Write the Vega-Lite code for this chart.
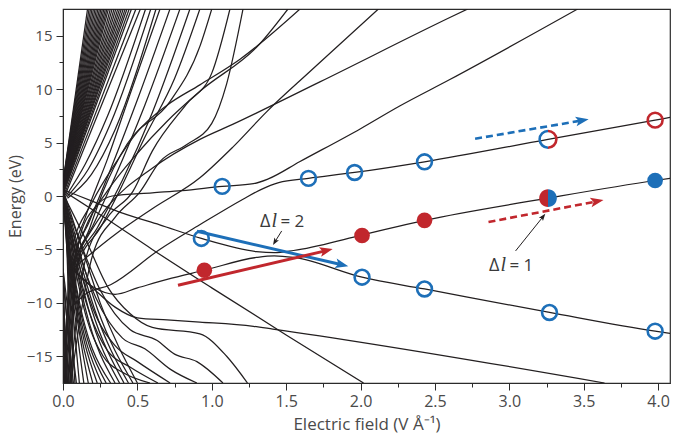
{
"$schema":"https://vega.github.io/schema/vega-lite/v6.json",
"width":607,"height":374,
"autosize":{"type":"none"},
"padding":{"left":63,"top":9,"right":19,"bottom":57},
"config":{"view":{"stroke":"#2b2b2b","strokeWidth":1.2},"font":"Open Sans"},
"datasets":{
"lines":[
{"id":"u1","x":0,"y":1.3},{"id":"u1","x":0.165,"y":17.5},
{"id":"u1b","x":0,"y":1.28},{"id":"u1b","x":0.175,"y":17.5},
{"id":"u2","x":0,"y":1.25},{"id":"u2","x":0.185,"y":17.5},
{"id":"u2b","x":0,"y":1.22},{"id":"u2b","x":0.195,"y":17.5},
{"id":"u3","x":0,"y":1.2},{"id":"u3","x":0.205,"y":17.5},
{"id":"u3b","x":0,"y":1.15},{"id":"u3b","x":0.215,"y":17.5},
{"id":"u4","x":0,"y":1.1},{"id":"u4","x":0.225,"y":17.5},
{"id":"u4b","x":0,"y":1.05},{"id":"u4b","x":0.235,"y":17.5},
{"id":"u5","x":0,"y":1.0},{"id":"u5","x":0.245,"y":17.5},
{"id":"u5b","x":0,"y":0.95},{"id":"u5b","x":0.255,"y":17.5},
{"id":"u6","x":0,"y":0.9},{"id":"u6","x":0.265,"y":17.5},
{"id":"u6b","x":0,"y":0.88},{"id":"u6b","x":0.275,"y":17.5},
{"id":"u7","x":0,"y":0.85},{"id":"u7","x":0.285,"y":17.5},
{"id":"u7b","x":0,"y":0.82},{"id":"u7b","x":0.295,"y":17.5},
{"id":"u8","x":0,"y":0.8},{"id":"u8","x":0.305,"y":17.5},
{"id":"u8b","x":0,"y":0.75},{"id":"u8b","x":0.318,"y":17.5},
{"id":"u9","x":0,"y":0.7},{"id":"u9","x":0.33,"y":17.5},
{"id":"u9b","x":0,"y":0.65},{"id":"u9b","x":0.343,"y":17.5},
{"id":"u10","x":0,"y":0.6},{"id":"u10","x":0.355,"y":17.5},
{"id":"u10b","x":0,"y":0.55},{"id":"u10b","x":0.368,"y":17.5},
{"id":"u11","x":0,"y":0.5},{"id":"u11","x":0.38,"y":17.5},
{"id":"u11b","x":0,"y":0.48},{"id":"u11b","x":0.392,"y":17.5},
{"id":"u12","x":0,"y":0.45},{"id":"u12","x":0.405,"y":17.5},
{"id":"u12b","x":0,"y":0.42},{"id":"u12b","x":0.418,"y":17.5},
{"id":"u13","x":0,"y":0.4},{"id":"u13","x":0.43,"y":17.5},
{"id":"u13b","x":0.003,"y":0.35},{"id":"u13b","x":0.445,"y":17.5},
{"id":"u14","x":0.005,"y":0.3},{"id":"u14","x":0.46,"y":17.5},
{"id":"u15","x":0.01,"y":0.2},{"id":"u15","x":0.49,"y":17.5},
{"id":"u16","x":0.015,"y":0.1},{"id":"u16","x":0.52,"y":17.5},
{"id":"u17","x":0.02,"y":0.0},{"id":"u17","x":0.15,"y":3.0},{"id":"u17","x":0.3,"y":7.5},{"id":"u17","x":0.555,"y":17.5},
{"id":"u18","x":0.025,"y":-0.1},{"id":"u18","x":0.17,"y":2.5},{"id":"u18","x":0.32,"y":6.8},{"id":"u18","x":0.59,"y":17.5},
{"id":"u19","x":0.03,"y":-0.2},{"id":"u19","x":0.19,"y":2.0},{"id":"u19","x":0.35,"y":6.2},{"id":"u19","x":0.625,"y":17.5},
{"id":"m1","x":0,"y":-17.5},{"id":"m1","x":0.06,"y":-6.2},{"id":"m1","x":0.15,"y":-2.0},{"id":"m1","x":0.3,"y":3.5},{"id":"m1","x":0.45,"y":9.5},{"id":"m1","x":0.652,"y":17.5},
{"id":"m2","x":0.008,"y":-17.5},{"id":"m2","x":0.07,"y":-6.3},{"id":"m2","x":0.18,"y":-2.3},{"id":"m2","x":0.32,"y":2.5},{"id":"m2","x":0.5,"y":9.0},{"id":"m2","x":0.719,"y":17.5},
{"id":"m3","x":0.015,"y":-17.5},{"id":"m3","x":0.08,"y":-6.4},{"id":"m3","x":0.2,"y":-2.8},{"id":"m3","x":0.35,"y":1.8},{"id":"m3","x":0.55,"y":8.5},{"id":"m3","x":0.786,"y":17.5},
{"id":"m4","x":0.022,"y":-17.5},{"id":"m4","x":0.09,"y":-6.5},{"id":"m4","x":0.23,"y":-3.0},{"id":"m4","x":0.4,"y":1.5},{"id":"m4","x":0.6,"y":7.8},{"id":"m4","x":0.853,"y":17.5},
{"id":"m5","x":0.03,"y":-17.5},{"id":"m5","x":0.1,"y":-6.5},{"id":"m5","x":0.25,"y":-3.0},{"id":"m5","x":0.38,"y":0.5},{"id":"m5","x":0.55,"y":5.5},{"id":"m5","x":0.75,"y":11.0},{"id":"m5","x":0.92,"y":17.5},
{"id":"m6","x":0.038,"y":-17.5},{"id":"m6","x":0.1,"y":-6.3},{"id":"m6","x":0.18,"y":-3.0},{"id":"m6","x":0.27,"y":0.44},{"id":"m6","x":0.43,"y":4.84},{"id":"m6","x":0.72,"y":8.85},{"id":"m6","x":0.92,"y":14.0},{"id":"m6","x":1.0,"y":17.5},
{"id":"m7","x":0.045,"y":-17.5},{"id":"m7","x":0.15,"y":-6.0},{"id":"m7","x":0.3,"y":-2.0},{"id":"m7","x":0.47,"y":0.44},{"id":"m7","x":0.6,"y":4.2},{"id":"m7","x":0.83,"y":8.6},{"id":"m7","x":1.0,"y":11.5},{"id":"m7","x":1.122,"y":17.5},
{"id":"m8","x":0.052,"y":-17.5},{"id":"m8","x":0.2,"y":-5.5},{"id":"m8","x":0.35,"y":-2.0},{"id":"m8","x":0.52,"y":0.44},{"id":"m8","x":0.65,"y":3.2},{"id":"m8","x":0.83,"y":4.8},{"id":"m8","x":1.0,"y":6.8},{"id":"m8","x":1.1,"y":10.5},{"id":"m8","x":1.21,"y":17.5},
{"id":"m9","x":0.06,"y":-17.5},{"id":"m9","x":0.08,"y":-6.0},{"id":"m9","x":0.15,"y":-3.0},{"id":"m9","x":0.3,"y":0.5},{"id":"m9","x":0.5,"y":4.0},{"id":"m9","x":0.7,"y":7.0},{"id":"m9","x":0.92,"y":9.8},{"id":"m9","x":1.32,"y":14.2},{"id":"m9","x":1.512,"y":17.5},
{"id":"m10","x":0.012,"y":-17.5},{"id":"m10","x":0.05,"y":-5.5},{"id":"m10","x":0.2,"y":-0.5},{"id":"m10","x":0.35,"y":3.0},{"id":"m10","x":0.5,"y":6.0},{"id":"m10","x":0.7,"y":8.5},{"id":"m10","x":0.92,"y":10.4},{"id":"m10","x":1.19,"y":12.8},{"id":"m10","x":1.593,"y":17.5},
{"id":"A","x":0.04,"y":-6.8},{"id":"A","x":0.3,"y":-1.0},{"id":"A","x":0.6,"y":2.6},{"id":"A","x":0.92,"y":5.3},{"id":"A","x":1.14,"y":6.7},{"id":"A","x":1.73,"y":10.7},{"id":"A","x":2.6,"y":16.7},{"id":"A","x":2.72,"y":17.5},
{"id":"C","x":0.05,"y":-7.0},{"id":"C","x":0.35,"y":-3.6},{"id":"C","x":0.6,"y":-1.2},{"id":"C","x":0.92,"y":1.7},{"id":"C","x":1.14,"y":4.55},{"id":"C","x":1.37,"y":7.9},{"id":"C","x":1.66,"y":11.65},{"id":"C","x":2.12,"y":17.5},
{"id":"P1","x":0.06,"y":-7.2},{"id":"P1","x":0.12,"y":-3.5},{"id":"P1","x":0.22,"y":-1.0},{"id":"P1","x":0.33,"y":0.0},{"id":"P1","x":0.6,"y":0.3},{"id":"P1","x":0.8,"y":0.5},{"id":"P1","x":1.07,"y":0.9},{"id":"P1","x":1.28,"y":1.15},{"id":"P1","x":1.38,"y":1.6},{"id":"P1","x":1.59,"y":3.2},{"id":"P1","x":2.0,"y":6.3},{"id":"P1","x":2.26,"y":8.4},{"id":"P1","x":2.6,"y":10.9},{"id":"P1","x":3.46,"y":17.5},
{"id":"P2","x":0.05,"y":-10.5},{"id":"P2","x":0.15,"y":-9.2},{"id":"P2","x":0.32,"y":-8.3},{"id":"P2","x":0.65,"y":-5.0},{"id":"P2","x":0.93,"y":-2.6},{"id":"P2","x":1.21,"y":-0.3},{"id":"P2","x":1.33,"y":0.6},{"id":"P2","x":1.45,"y":1.25},{"id":"P2","x":1.65,"y":1.65},{"id":"P2","x":1.96,"y":2.2},{"id":"P2","x":2.43,"y":3.2},{"id":"P2","x":3.26,"y":5.3},{"id":"P2","x":3.98,"y":7.1},{"id":"P2","x":4.08,"y":7.35},
{"id":"s3","x":0,"y":0.6},{"id":"s3","x":0.2,"y":-0.5},{"id":"s3","x":0.4,"y":-1.6},{"id":"s3","x":0.65,"y":-2.7},{"id":"s3","x":0.93,"y":-3.97},{"id":"s3","x":1.3,"y":-5.2},{"id":"s3","x":1.42,"y":-5.3},{"id":"s3","x":1.55,"y":-5.1},{"id":"s3","x":1.98,"y":-3.75},{"id":"s3","x":2.43,"y":-2.28},{"id":"s3","x":3.26,"y":-0.2},{"id":"s3","x":3.98,"y":1.45},{"id":"s3","x":4.08,"y":1.65},
{"id":"s2","x":0.04,"y":-6.5},{"id":"s2","x":0.2,"y":-8.5},{"id":"s2","x":0.35,"y":-9.2},{"id":"s2","x":0.5,"y":-8.6},{"id":"s2","x":0.7,"y":-7.8},{"id":"s2","x":0.95,"y":-6.95},{"id":"s2","x":1.3,"y":-5.75},{"id":"s2","x":1.42,"y":-5.6},{"id":"s2","x":1.55,"y":-5.75},{"id":"s2","x":2.01,"y":-7.6},{"id":"s2","x":2.43,"y":-8.7},{"id":"s2","x":3.27,"y":-10.9},{"id":"s2","x":3.98,"y":-12.65},{"id":"s2","x":4.08,"y":-12.85},
{"id":"L1","x":0.05,"y":-6.6},{"id":"L1","x":0.2,"y":-8.6},{"id":"L1","x":0.35,"y":-10.4},{"id":"L1","x":0.5,"y":-11.4},{"id":"L1","x":0.7,"y":-11.6},{"id":"L1","x":0.92,"y":-11.8},{"id":"L1","x":1.28,"y":-12.2},{"id":"L1","x":1.41,"y":-12.45},{"id":"L1","x":3.64,"y":-17.5},
{"id":"b","x":0,"y":0.5},{"id":"b","x":0.3,"y":-2.2},{"id":"b","x":0.6,"y":-5.0},{"id":"b","x":1.0,"y":-8.6},{"id":"b","x":1.5,"y":-13.0},{"id":"b","x":2.02,"y":-17.5},
{"id":"d1","x":0,"y":0.2},{"id":"d1","x":0.15,"y":-4.0},{"id":"d1","x":0.3,"y":-8.5},{"id":"d1","x":0.45,"y":-11.0},{"id":"d1","x":0.6,"y":-12.3},{"id":"d1","x":0.92,"y":-12.9},{"id":"d1","x":1.1,"y":-15.0},{"id":"d1","x":1.24,"y":-17.5},
{"id":"d2","x":0,"y":0.1},{"id":"d2","x":0.12,"y":-4.5},{"id":"d2","x":0.25,"y":-8.8},{"id":"d2","x":0.45,"y":-12.5},{"id":"d2","x":0.63,"y":-13.5},{"id":"d2","x":0.75,"y":-14.8},{"id":"d2","x":0.9,"y":-15.5},{"id":"d2","x":1.075,"y":-17.5},
{"id":"d3","x":0,"y":0.0},{"id":"d3","x":0.1,"y":-5.0},{"id":"d3","x":0.22,"y":-9.5},{"id":"d3","x":0.4,"y":-13.3},{"id":"d3","x":0.55,"y":-14.3},{"id":"d3","x":0.72,"y":-16.2},{"id":"d3","x":0.9,"y":-17.5},
{"id":"d4","x":0,"y":-0.1},{"id":"d4","x":0.09,"y":-5.5},{"id":"d4","x":0.2,"y":-10.5},{"id":"d4","x":0.35,"y":-14.0},{"id":"d4","x":0.5,"y":-15.5},{"id":"d4","x":0.72,"y":-17.5},
{"id":"d5","x":0,"y":-0.2},{"id":"d5","x":0.08,"y":-6.0},{"id":"d5","x":0.18,"y":-11.0},{"id":"d5","x":0.3,"y":-14.5},{"id":"d5","x":0.45,"y":-16.0},{"id":"d5","x":0.638,"y":-17.5},
{"id":"d6","x":0,"y":-0.3},{"id":"d6","x":0.075,"y":-6.3},{"id":"d6","x":0.16,"y":-11.5},{"id":"d6","x":0.27,"y":-15.0},{"id":"d6","x":0.4,"y":-16.5},{"id":"d6","x":0.585,"y":-17.5},
{"id":"f1","x":0,"y":0.2},{"id":"f1","x":0.03,"y":-6.5},{"id":"f1","x":0.05,"y":-17.5},
{"id":"f2","x":0,"y":0.1},{"id":"f2","x":0.035,"y":-6.6},{"id":"f2","x":0.08,"y":-17.5},
{"id":"f3","x":0,"y":0.0},{"id":"f3","x":0.04,"y":-6.7},{"id":"f3","x":0.11,"y":-17.5},
{"id":"f4","x":0,"y":-0.1},{"id":"f4","x":0.045,"y":-6.8},{"id":"f4","x":0.14,"y":-17.5},
{"id":"f5","x":0,"y":-0.2},{"id":"f5","x":0.05,"y":-6.9},{"id":"f5","x":0.17,"y":-17.5},
{"id":"f6","x":0,"y":0.3},{"id":"f6","x":0.055,"y":-7.0},{"id":"f6","x":0.2,"y":-17.5},
{"id":"f7","x":0,"y":0.2},{"id":"f7","x":0.06,"y":-7.1},{"id":"f7","x":0.23,"y":-17.5},
{"id":"f8","x":0,"y":0.1},{"id":"f8","x":0.065,"y":-7.2},{"id":"f8","x":0.26,"y":-17.5},
{"id":"f9","x":0,"y":0.0},{"id":"f9","x":0.07,"y":-7.2},{"id":"f9","x":0.29,"y":-17.5},
{"id":"f10","x":0,"y":-0.1},{"id":"f10","x":0.075,"y":-7.3},{"id":"f10","x":0.32,"y":-17.5},
{"id":"f11","x":0,"y":0.4},{"id":"f11","x":0.08,"y":-6.0},{"id":"f11","x":0.15,"y":-10.5},{"id":"f11","x":0.35,"y":-17.5},
{"id":"f12","x":0,"y":0.4},{"id":"f12","x":0.09,"y":-6.0},{"id":"f12","x":0.17,"y":-10.5},{"id":"f12","x":0.38,"y":-17.5},
{"id":"f13","x":0,"y":0.5},{"id":"f13","x":0.1,"y":-6.0},{"id":"f13","x":0.19,"y":-10.5},{"id":"f13","x":0.41,"y":-17.5},
{"id":"f14","x":0,"y":0.5},{"id":"f14","x":0.11,"y":-5.8},{"id":"f14","x":0.21,"y":-10.5},{"id":"f14","x":0.44,"y":-17.5},
{"id":"f15","x":0,"y":0.6},{"id":"f15","x":0.12,"y":-5.6},{"id":"f15","x":0.23,"y":-10.5},{"id":"f15","x":0.47,"y":-17.5},
{"id":"f16","x":0,"y":0.6},{"id":"f16","x":0.14,"y":-5.4},{"id":"f16","x":0.25,"y":-10.0},{"id":"f16","x":0.5,"y":-17.5},
{"id":"g1","x":0,"y":-7.5},{"id":"g1","x":0.02,"y":-17.5},
{"id":"g2","x":0,"y":-8.5},{"id":"g2","x":0.03,"y":-17.5},
{"id":"g3","x":0,"y":-9.5},{"id":"g3","x":0.04,"y":-17.5},
{"id":"g4","x":0,"y":-7.0},{"id":"g4","x":0.06,"y":-17.5},
{"id":"g5","x":0,"y":-11.0},{"id":"g5","x":0.025,"y":-17.5},
{"id":"g6","x":0,"y":-12.5},{"id":"g6","x":0.015,"y":-17.5},
{"id":"g7","x":0,"y":-6.8},{"id":"g7","x":0.09,"y":-17.5},
{"id":"g8","x":0,"y":-8.0},{"id":"g8","x":0.07,"y":-17.5}
],
"pts":[
{"k":"bo","x":1.07,"y":0.9},{"k":"bo","x":1.65,"y":1.65},{"k":"bo","x":1.96,"y":2.2},{"k":"bo","x":2.43,"y":3.2},
{"k":"bo","x":0.93,"y":-3.97},{"k":"bo","x":2.01,"y":-7.6},{"k":"bo","x":2.43,"y":-8.7},{"k":"bo","x":3.27,"y":-10.9},{"k":"bo","x":3.98,"y":-12.65},
{"k":"ro","x":3.98,"y":7.1},
{"k":"ho","x":3.26,"y":5.3},
{"k":"rf","x":0.95,"y":-6.95},{"k":"rf","x":2.01,"y":-3.7},{"k":"rf","x":2.43,"y":-2.28},
{"k":"hf","x":3.26,"y":-0.2},
{"k":"bf","x":3.98,"y":1.45}
],
"arrows":[
{"a":"bs","x":0.9,"y":-3.3,"end":false},{"a":"bs","x":1.875,"y":-6.44,"end":true},
{"a":"rs","x":0.773,"y":-8.35,"end":false},{"a":"rs","x":1.77,"y":-5.11,"end":true},
{"a":"bd","x":2.77,"y":5.36,"end":false},{"a":"bd","x":3.49,"y":7.07,"end":true},
{"a":"rd","x":2.86,"y":-2.43,"end":false},{"a":"rd","x":3.59,"y":-0.5,"end":true},
{"a":"k2","x":1.47,"y":-3.27,"end":false},{"a":"k2","x":1.424,"y":-4.3,"end":true},
{"a":"k1","x":3.042,"y":-5.14,"end":false},{"a":"k1","x":3.227,"y":-1.93,"end":true}
],
"labels":[
{"x":1.324,"y":-2.93,"eq":"= 2"},
{"x":2.863,"y":-7.01,"eq":"= 1"}
]
},
"encoding":{
"x":{"field":"x","type":"quantitative","scale":{"domain":[0,4.08],"nice":false,"zero":false},
"axis":{"title":"Electric field (V Å⁻¹)","values":[0,0.25,0.5,0.75,1,1.25,1.5,1.75,2,2.25,2.5,2.75,3,3.25,3.5,3.75,4],
"labelExpr":"datum.value % 0.5 === 0 ? format(datum.value, '.1f') : ''",
"tickSize":{"condition":{"test":"datum.value % 0.5 === 0","value":7},"value":4},
"grid":false,"labelOverlap":false,"labelFlush":false,"domainColor":"#2b2b2b","tickColor":"#2b2b2b","tickWidth":1,
"labelFontSize":16,"labelColor":"#4a4a4a","labelFont":"Open Sans","labelPadding":3,
"titleFont":"Open Sans","titleFontSize":17,"titleColor":"#4a4a4a","titleFontWeight":"normal","titlePadding":7}},
"y":{"field":"y","type":"quantitative","scale":{"domain":[-17.5,17.5],"nice":false,"zero":false},
"axis":{"title":"Energy (eV)","values":[-15,-12.5,-10,-7.5,-5,-2.5,0,2.5,5,7.5,10,12.5,15],
"labelExpr":"datum.value % 5 === 0 ? format(datum.value, 'd') : ''",
"tickSize":{"condition":{"test":"datum.value % 5 === 0","value":7},"value":4},
"grid":false,"labelOverlap":false,"labelFlush":false,"domainColor":"#2b2b2b","tickColor":"#2b2b2b","tickWidth":1,
"labelFontSize":15,"labelColor":"#4a4a4a","labelFont":"Open Sans","labelPadding":4,
"titleFont":"Open Sans","titleFontSize":16,"titleColor":"#4a4a4a","titleFontWeight":"normal","titlePadding":3}}
},
"layer":[
{"data":{"name":"lines"},"mark":{"type":"line","color":"#231f20","strokeWidth":1.25,"clip":true,"interpolate":"monotone"},"encoding":{"detail":{"field":"id"}}},
{"data":{"name":"arrows"},"transform":[{"filter":"datum.a==='bs'"}],"mark":{"type":"line","color":"#1d6fb8","strokeWidth":3},"encoding":{}},
{"data":{"name":"arrows"},"transform":[{"filter":"datum.a==='rs'"}],"mark":{"type":"line","color":"#c1272d","strokeWidth":3},"encoding":{}},
{"data":{"name":"arrows"},"transform":[{"filter":"datum.a==='bd'"}],"mark":{"type":"line","color":"#1d6fb8","strokeWidth":2.6,"strokeDash":[7,4]},"encoding":{}},
{"data":{"name":"arrows"},"transform":[{"filter":"datum.a==='rd'"}],"mark":{"type":"line","color":"#c1272d","strokeWidth":2.6,"strokeDash":[7,4]},"encoding":{}},
{"data":{"name":"arrows"},"transform":[{"filter":"datum.a==='k2'"}],"mark":{"type":"line","color":"#231f20","strokeWidth":1},"encoding":{}},
{"data":{"name":"arrows"},"transform":[{"filter":"datum.a==='k1'"}],"mark":{"type":"line","color":"#231f20","strokeWidth":1},"encoding":{}},
{"data":{"name":"arrows"},"transform":[{"filter":"datum.a==='bs' && datum.end"}],"mark":{"type":"point","shape":"M1,0L-1,-0.75L-0.55,0L-1,0.75Z","filled":true,"color":"#1d6fb8","opacity":1,"size":170,"angle":13}},
{"data":{"name":"arrows"},"transform":[{"filter":"datum.a==='rs' && datum.end"}],"mark":{"type":"point","shape":"M1,0L-1,-0.75L-0.55,0L-1,0.75Z","filled":true,"color":"#c1272d","opacity":1,"size":170,"angle":-13.2}},
{"data":{"name":"arrows"},"transform":[{"filter":"datum.a==='bd' && datum.end"}],"mark":{"type":"point","shape":"M1,0L-1,-0.75L-0.55,0L-1,0.75Z","filled":true,"color":"#1d6fb8","opacity":1,"size":170,"angle":-9.7}},
{"data":{"name":"arrows"},"transform":[{"filter":"datum.a==='rd' && datum.end"}],"mark":{"type":"point","shape":"M1,0L-1,-0.75L-0.55,0L-1,0.75Z","filled":true,"color":"#c1272d","opacity":1,"size":170,"angle":-10.8}},
{"data":{"name":"arrows"},"transform":[{"filter":"datum.a==='k2' && datum.end"}],"mark":{"type":"point","shape":"M1,0L-1,-0.75L-0.55,0L-1,0.75Z","filled":true,"color":"#231f20","opacity":1,"size":50,"angle":121}},
{"data":{"name":"arrows"},"transform":[{"filter":"datum.a==='k1' && datum.end"}],"mark":{"type":"point","shape":"M1,0L-1,-0.75L-0.55,0L-1,0.75Z","filled":true,"color":"#231f20","opacity":1,"size":50,"angle":-51.4}},
{"data":{"name":"pts"},"transform":[{"filter":"datum.k==='bo'"}],"mark":{"type":"point","shape":"circle","filled":false,"color":"#1d6fb8","strokeWidth":2.6,"size":220,"opacity":1}},
{"data":{"name":"pts"},"transform":[{"filter":"datum.k==='ro'"}],"mark":{"type":"point","shape":"circle","filled":false,"color":"#c1272d","strokeWidth":2.6,"size":220,"opacity":1}},
{"data":{"name":"pts"},"transform":[{"filter":"datum.k==='ho'"}],"mark":{"type":"point","shape":"M0,-1A1,1,0,0,0,0,1","filled":false,"color":"#1d6fb8","strokeWidth":2.6,"size":280,"opacity":1}},
{"data":{"name":"pts"},"transform":[{"filter":"datum.k==='ho'"}],"mark":{"type":"point","shape":"M0,-1A1,1,0,0,1,0,1","filled":false,"color":"#c1272d","strokeWidth":2.6,"size":280,"opacity":1}},
{"data":{"name":"pts"},"transform":[{"filter":"datum.k==='rf'"}],"mark":{"type":"circle","color":"#c1272d","size":245,"opacity":1}},
{"data":{"name":"pts"},"transform":[{"filter":"datum.k==='bf'"}],"mark":{"type":"circle","color":"#1d6fb8","size":245,"opacity":1}},
{"data":{"name":"pts"},"transform":[{"filter":"datum.k==='hf'"}],"mark":{"type":"point","shape":"M0,-1A1,1,0,0,0,0,1Z","filled":true,"color":"#c1272d","size":310,"opacity":1}},
{"data":{"name":"pts"},"transform":[{"filter":"datum.k==='hf'"}],"mark":{"type":"point","shape":"M0,-1A1,1,0,0,1,0,1Z","filled":true,"color":"#1d6fb8","size":310,"opacity":1}},
{"data":{"name":"labels"},"mark":{"type":"text","text":"Δ","align":"left","baseline":"alphabetic","font":"Open Sans","fontSize":18,"color":"#3a3a3a"}},
{"data":{"name":"labels"},"mark":{"type":"text","text":"l","align":"left","baseline":"alphabetic","dx":11.5,"font":"Liberation Serif","fontStyle":"italic","fontSize":20,"color":"#3a3a3a"}},
{"data":{"name":"labels"},"mark":{"type":"text","align":"left","baseline":"alphabetic","dx":20.5,"font":"Open Sans","fontSize":17,"color":"#3a3a3a"},"encoding":{"text":{"field":"eq"}}}
]
}
